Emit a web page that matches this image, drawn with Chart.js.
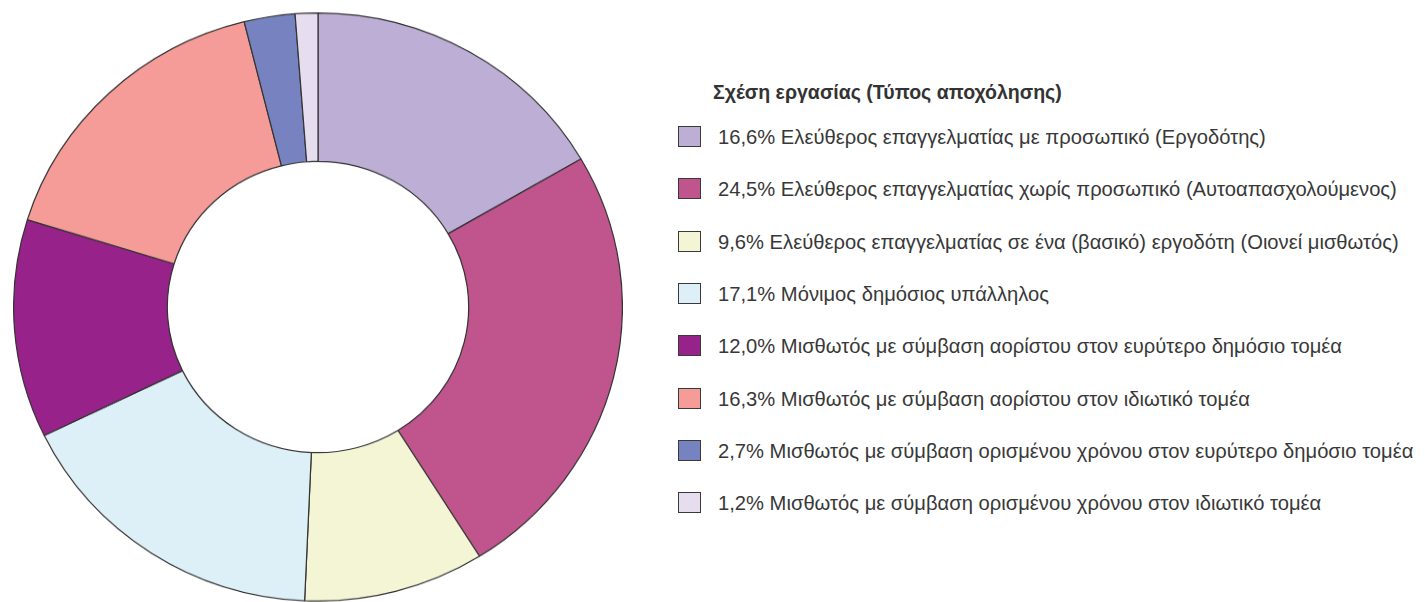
<!DOCTYPE html>
<html>
<head>
<meta charset="utf-8">
<script src="https://cdn.jsdelivr.net/npm/chart.js@4.4.0/dist/chart.umd.min.js"></script>
<style>
  html, body { margin:0; padding:0; background:#fff; }
  body { width:1425px; height:602px; position:relative; overflow:hidden; font-family:"Liberation Sans", Arial, sans-serif; }
  #wrap { position:absolute; left:13px; top:2px; width:610px; height:610px; transform:scaleY(0.966); transform-origin:50% 50%; }
  #legend { position:absolute; left:0; top:0; }
  .title { position:absolute; left:713px; top:92px; transform:translateY(-50%); font-weight:bold; font-size:16px; color:#333; white-space:nowrap; }
  .row { position:absolute; left:678px; white-space:nowrap; }
  .box { position:absolute; left:0; top:0; width:21px; height:19px; border:1.5px solid #3a3a3a; }
  .txt { position:absolute; left:40px; top:11px; transform:translateY(-50%); font-size:16px; color:#383838; }
</style>
</head>
<body>
<div id="wrap"><canvas id="c" width="610" height="610"></canvas></div>
<div id="legend"></div>
<script>
const legendTitle = "Σχέση εργασίας (Τύπος αποχόλησης)";
const categories = [
  "Ελεύθερος επαγγελματίας με προσωπικό (Εργοδότης)",
  "Ελεύθερος επαγγελματίας χωρίς προσωπικό (Αυτοαπασχολούμενος)",
  "Ελεύθερος επαγγελματίας σε ένα (βασικό) εργοδότη (Οιονεί μισθωτός)",
  "Μόνιμος δημόσιος υπάλληλος",
  "Μισθωτός με σύμβαση αορίστου στον ευρύτερο δημόσιο τομέα",
  "Μισθωτός με σύμβαση αορίστου στον ιδιωτικό τομέα",
  "Μισθωτός με σύμβαση ορισμένου χρόνου στον ευρύτερο δημόσιο τομέα",
  "Μισθωτός με σύμβαση ορισμένου χρόνου στον ιδιωτικό τομέα"
];
const percentLabels = ["16,6%", "24,5%", "9,6%", "17,1%", "12,0%", "16,3%", "2,7%", "1,2%"];
const values = [16.6, 24.5, 9.6, 17.1, 12.0, 16.3, 2.7, 1.2];
const colors = ["#BDAED6", "#C0548C", "#F4F5D5", "#DDF0F7", "#97228A", "#F59B98", "#7683C0", "#E6DEEF"];

new Chart(document.getElementById('c'), {
  type: 'doughnut',
  data: {
    labels: categories,
    datasets: [{
      data: values,
      backgroundColor: colors,
      borderColor: '#333333',
      borderWidth: 1.2
    }]
  },
  options: {
    responsive: false,
    animation: false,
    cutout: '49.5%',
    rotation: 0,
    plugins: { legend: { display: false }, tooltip: { enabled: false } }
  }
});

// HTML legend built from the arrays
const lg = document.getElementById('legend');
const t = document.createElement('div');
t.className = 'title';
t.textContent = legendTitle;
lg.appendChild(t);
const rows = [];
categories.forEach((name, i) => {
  const r = document.createElement('div');
  r.className = 'row';
  r.style.top = (126 + i * 52.3) + 'px';
  const b = document.createElement('div');
  b.className = 'box';
  b.style.background = colors[i];
  const s = document.createElement('span');
  s.className = 'txt';
  s.textContent = percentLabels[i] + ' ' + name;
  r.appendChild(b); r.appendChild(s);
  lg.appendChild(r);
  rows.push(s);
});
// fit font size to the reference text widths
const w0 = rows[0].getBoundingClientRect().width;
const fs = 16 * 548 / w0;
rows.forEach(s => s.style.fontSize = fs + 'px');
const wt = t.getBoundingClientRect().width;
t.style.fontSize = (16 * 349 / wt) + 'px';
</script>
</body>
</html>
